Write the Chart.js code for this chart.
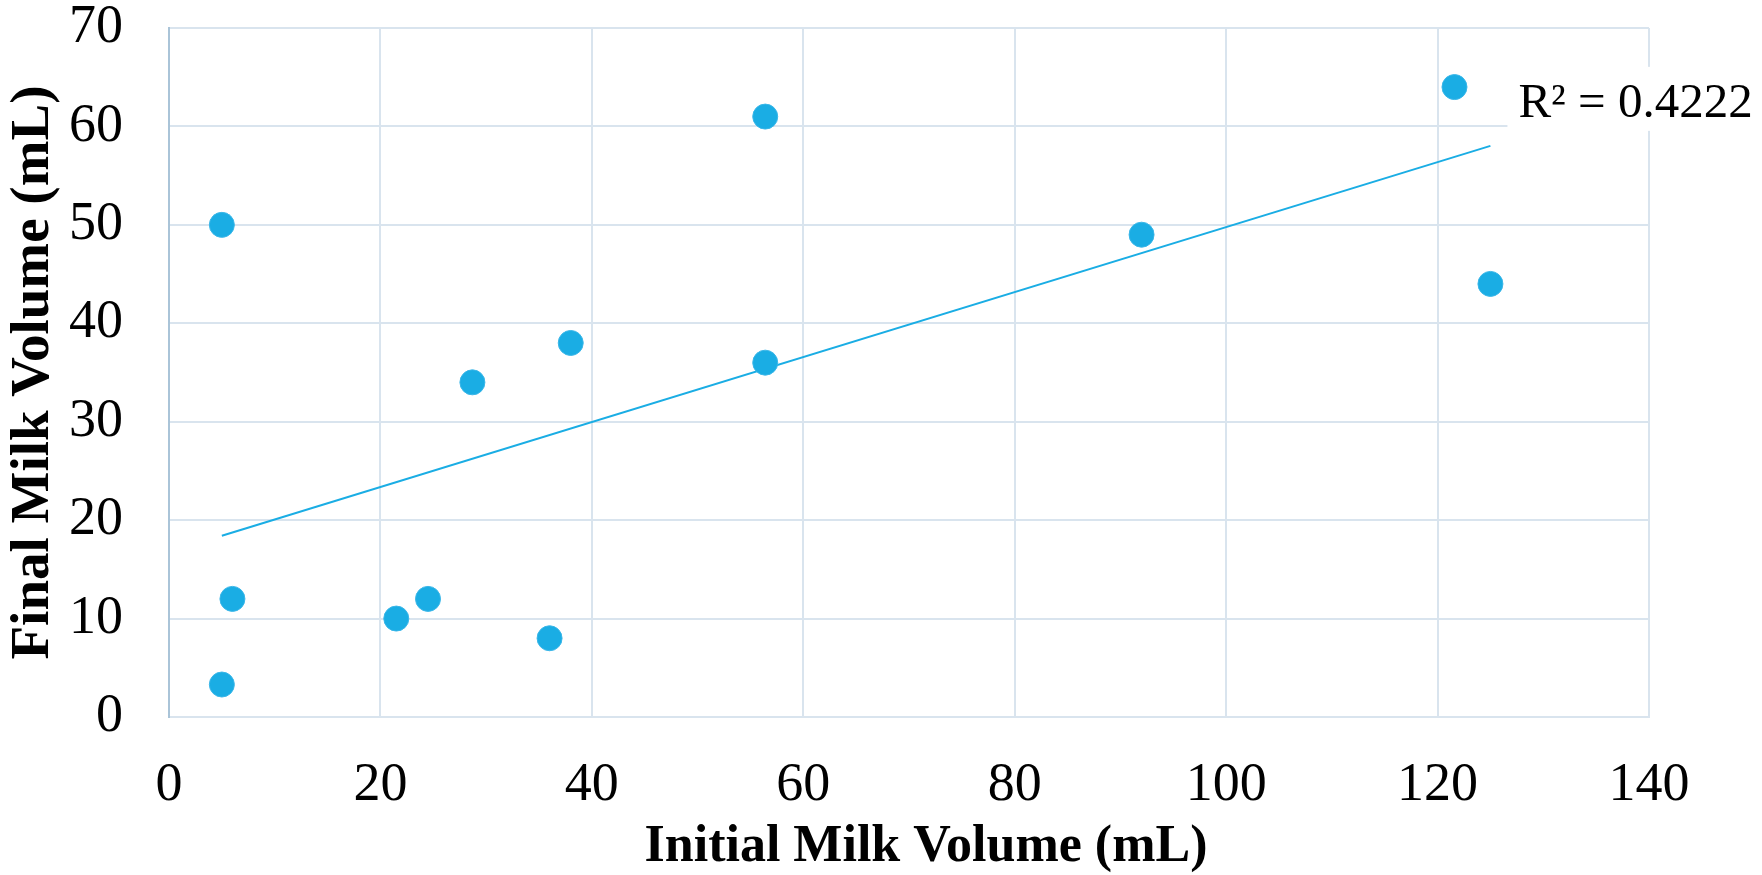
<!DOCTYPE html>
<html>
<head>
<meta charset="utf-8">
<script src="https://cdn.jsdelivr.net/npm/chart.js@4.4.1/dist/chart.umd.min.js"></script>
<style>
  html, body { margin: 0; padding: 0; background: #ffffff; }
  #wrap { width: 1762px; height: 875px; }
</style>
</head>
<body>
<div id="wrap"><canvas id="chart"></canvas></div>
<script>
// values
const initialVolume = [5, 5, 6, 21.5, 24.5, 28.7, 36, 38, 56.4, 56.4, 92, 121.6, 125]
const finalVolume = [50, 3.3, 12, 10, 12, 34, 8, 38, 36, 61, 49, 64, 44]
const xTickValues = [0, 20, 40, 60, 80, 100, 120, 140]
const yTickValues = [0, 10, 20, 30, 40, 50, 60, 70]
const xTitle = 'Initial Milk Volume (mL)'
const yTitle = 'Final Milk Volume (mL)'
const rSquaredText = 'R² = 0.4222'

const SERIF = '"Liberation Serif", "Times New Roman", serif'
const BLUE = '#1aade4'
const GRID = '#d9e4ee'

// linear trendline (least squares) from the data
function linearFit(xs, ys) {
    const n = xs.length
    const mx = xs.reduce((a, b) => a + b, 0) / n
    const my = ys.reduce((a, b) => a + b, 0) / n
    let sxy = 0, sxx = 0
    xs.forEach((x, i) => {
        sxy += (x - mx) * (ys[i] - my)
        sxx += (x - mx) * (x - mx)
    })
    const slope = sxy / sxx
    return {slope: slope, intercept: my - slope * mx}
}

const fit = linearFit(initialVolume, finalVolume)
const xMin = Math.min(...initialVolume)
const xMax = Math.max(...initialVolume)
const trendPoints = [xMin, xMax].map((x) => ({x: x, y: fit.intercept + fit.slope * x}))

const points = initialVolume.map((x, i) => ({x: x, y: finalVolume[i]}))

// R² box next to the end of the trendline, plus the x title (drawn a bit right of centre like the original)
const annotations = {
    id: 'annotations',
    afterDatasetsDraw(chart) {
        const ctx = chart.ctx
        const end = trendPoints[trendPoints.length - 1]
        const px = chart.scales.x.getPixelForValue(end.x)
        const py = chart.scales.y.getPixelForValue(end.y)
        ctx.save()
        ctx.fillStyle = '#ffffff'
        ctx.fillRect(px + 17, py - 79, 260, 64)
        ctx.fillStyle = '#000000'
        ctx.font = '49px ' + SERIF
        ctx.textBaseline = 'alphabetic'
        ctx.textAlign = 'left'
        ctx.fillText(rSquaredText, px + 28, py - 29)
        ctx.restore()
    },
    afterDraw(chart) {
        const ctx = chart.ctx
        const area = chart.chartArea
        ctx.save()
        ctx.fillStyle = '#000000'
        ctx.font = 'bold 52px ' + SERIF
        ctx.textAlign = 'center'
        ctx.textBaseline = 'alphabetic'
        ctx.fillText(xTitle, (area.left + area.right) / 2 + 17, chart.height - 14)
        ctx.restore()
    }
}

new Chart(document.getElementById('chart'), {
    type: 'scatter',
    data: {
        datasets: [{
            label: 'Milk volume',
            data: points,
            backgroundColor: BLUE,
            borderColor: '#3ab6e8',
            borderWidth: 1,
            pointRadius: 12.5,
            pointHoverRadius: 12.5,
            order: 1
        }, {
            label: 'Linear trend',
            data: trendPoints,
            showLine: true,
            borderColor: BLUE,
            borderWidth: 2,
            pointRadius: 0,
            fill: false,
            order: 2
        }]
    },
    options: {
        responsive: true,
        maintainAspectRatio: false,
        animation: false,
        layout: {
            padding: {top: 28, right: 113, left: 0, bottom: 0}
        },
        plugins: {
            legend: {display: false},
            tooltip: {enabled: false}
        },
        scales: {
            x: {
                type: 'linear',
                min: 0,
                max: 140,
                afterBuildTicks: (scale) => {
                    scale.ticks = xTickValues.map((v) => ({value: v}))
                },
                afterFit: (scale) => {
                    scale.height = 158
                    scale.paddingLeft = 0
                    scale.paddingRight = 0
                },
                grid: {color: GRID, lineWidth: 2, drawTicks: false},
                border: {color: GRID, width: 2},
                ticks: {
                    color: '#000000',
                    padding: 36,
                    maxRotation: 0,
                    font: {family: SERIF, size: 54}
                },
                title: {display: false}
            },
            y: {
                type: 'linear',
                min: 0,
                max: 70,
                afterBuildTicks: (scale) => {
                    scale.ticks = yTickValues.map((v) => ({value: v}))
                },
                afterFit: (scale) => {
                    scale.width = 169
                    scale.paddingTop = 0
                    scale.paddingBottom = 0
                },
                grid: {color: GRID, lineWidth: 2, drawTicks: false},
                border: {color: '#aac4d8', width: 2},
                ticks: {
                    color: '#000000',
                    padding: 46,
                    font: {family: SERIF, size: 54}
                },
                title: {
                    display: true,
                    text: yTitle,
                    color: '#000000',
                    padding: {top: 6, bottom: 0},
                    font: {family: SERIF, size: 55, weight: 'bold', lineHeight: 1.0}
                }
            }
        }
    },
    plugins: [annotations]
})
</script>
</body>
</html>
